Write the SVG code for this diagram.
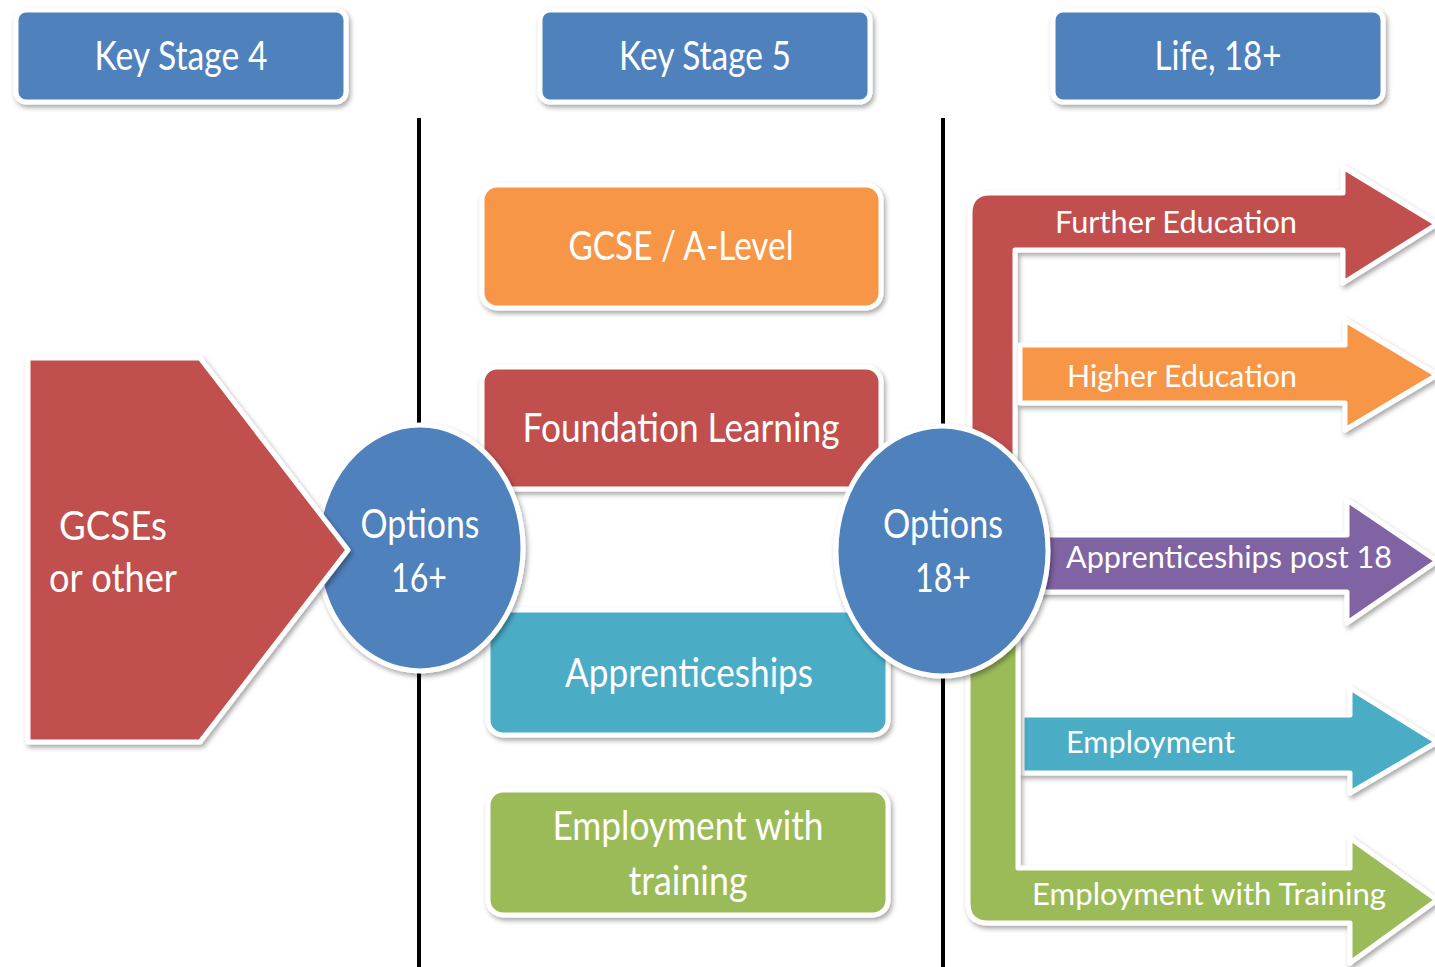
<svg xmlns="http://www.w3.org/2000/svg" width="1435" height="967" viewBox="0 0 1435 967">
<defs>
<filter id="sh" x="-10%" y="-10%" width="120%" height="130%">
<feDropShadow dx="2" dy="3" stdDeviation="2.5" flood-color="#000" flood-opacity="0.35"/>
</filter>
<style>
.shape{stroke:#fff;stroke-width:5;filter:url(#sh);stroke-linejoin:round}
.blue{fill:#4f81bd}.orange{fill:#f79646}.red{fill:#c0504d}.teal{fill:#4bacc6}.green{fill:#9bbb59}.purple{fill:#8064a2}
text{font-family:Lato,"Open Sans","Liberation Sans",sans-serif;fill:#fff;text-anchor:middle}
.big{font-size:41px}
.med{font-size:30px}
.sm{text-anchor:start}
.divider{stroke:#000;stroke-width:4}
</style>
</defs>
<rect width="1435" height="967" fill="#fff"/>

<g id="dividers">
<line class="divider" x1="419" y1="118" x2="419" y2="967"/>
<line class="divider" x1="943" y1="118" x2="943" y2="967"/>
</g>

<g id="ks4">
<rect class="shape blue" x="16" y="10" width="330" height="92" rx="10"/>
<text class="big" x="181" y="70" textLength="173" lengthAdjust="spacingAndGlyphs">Key Stage 4</text>
</g>
<g id="ks5">
<rect class="shape blue" x="540" y="10" width="330" height="92" rx="10"/>
<text class="big" x="705" y="70" textLength="172" lengthAdjust="spacingAndGlyphs">Key Stage 5</text>
</g>
<g id="life18">
<rect class="shape blue" x="1053" y="10" width="330" height="92" rx="10"/>
<text class="big" x="1218" y="70" textLength="127" lengthAdjust="spacingAndGlyphs">Life, 18+</text>
</g>

<g id="gcse-alevel">
<rect class="shape orange" x="482" y="185" width="399" height="123" rx="15"/>
<text class="big" x="681" y="260" textLength="225" lengthAdjust="spacingAndGlyphs">GCSE / A-Level</text>
</g>
<g id="foundation">
<rect class="shape red" x="482" y="367" width="399" height="122" rx="15"/>
<text class="big" x="681" y="442" textLength="317" lengthAdjust="spacingAndGlyphs">Foundation Learning</text>
</g>
<g id="apprenticeships">
<rect class="shape teal" x="488" y="610" width="400" height="125" rx="15"/>
<text class="big" x="689" y="687" textLength="248" lengthAdjust="spacingAndGlyphs">Apprenticeships</text>
</g>
<g id="employment-training">
<rect class="shape green" x="488" y="790" width="400" height="125" rx="15"/>
<text class="big" x="688" y="840" textLength="271" lengthAdjust="spacingAndGlyphs">Employment with</text>
<text class="big" x="688" y="895" textLength="119" lengthAdjust="spacingAndGlyphs">training</text>
</g>

<g id="options16">
<ellipse class="shape blue" cx="420" cy="548" rx="103" ry="123"/>
<text class="big" x="420" y="538" textLength="119" lengthAdjust="spacingAndGlyphs">Options</text>
<text class="big" x="419" y="592" textLength="56" lengthAdjust="spacingAndGlyphs">16+</text>
</g>

<g id="gcses">
<polygon class="shape red" points="28,358 200,358 348,550 200,742 28,742"/>
<text class="big" x="113" y="540" textLength="108" lengthAdjust="spacingAndGlyphs">GCSEs</text>
<text class="big" x="113" y="592" textLength="128" lengthAdjust="spacingAndGlyphs">or other</text>
</g>

<g id="connectors">
<g id="arrow-further">
<path class="shape red" d="M970,480 L970,213 Q970,193 990,193 L1343,193 L1343,167 L1437,224 L1343,283 L1343,250 L1015,250 L1015,480 Z"/>
<text class="med sm" x="1055" y="233" textLength="242" lengthAdjust="spacingAndGlyphs">Further Education</text>
</g>
<g id="arrow-higher">
<path class="shape orange" d="M1020,345 L1345,345 L1345,320 L1437,375 L1345,430 L1345,403 L1020,403 Z"/>
<text class="med sm" x="1067" y="387" textLength="230" lengthAdjust="spacingAndGlyphs">Higher Education</text>
</g>
<g id="arrow-appr18">
<path class="shape purple" d="M1000,535 L1347,535 L1347,500 L1437,561 L1347,623 L1347,592 L1000,592 Z"/>
<text class="med sm" x="1066" y="568" textLength="326" lengthAdjust="spacingAndGlyphs">Apprenticeships post 18</text>
</g>
<g id="arrow-employment">
<path class="shape teal" d="M1022,715 L1350,715 L1350,688 L1437,742 L1350,793 L1350,773 L1022,773 Z"/>
<text class="med sm" x="1066" y="753" textLength="169" lengthAdjust="spacingAndGlyphs">Employment</text>
</g>
<g id="arrow-emp-training">
<path class="shape green" d="M968,600 L1018,600 L1018,868 L1350,868 L1350,838 L1437,900 L1350,963 L1350,923 L988,923 Q968,923 968,903 Z"/>
<text class="med sm" x="1032" y="905" textLength="354" lengthAdjust="spacingAndGlyphs">Employment with Training</text>
</g>
</g>

<g id="options18">
<ellipse class="shape blue" cx="942" cy="551" rx="106" ry="125"/>
<text class="big" x="943" y="538" textLength="120" lengthAdjust="spacingAndGlyphs">Options</text>
<text class="big" x="943" y="592" textLength="56" lengthAdjust="spacingAndGlyphs">18+</text>
</g>
</svg>
